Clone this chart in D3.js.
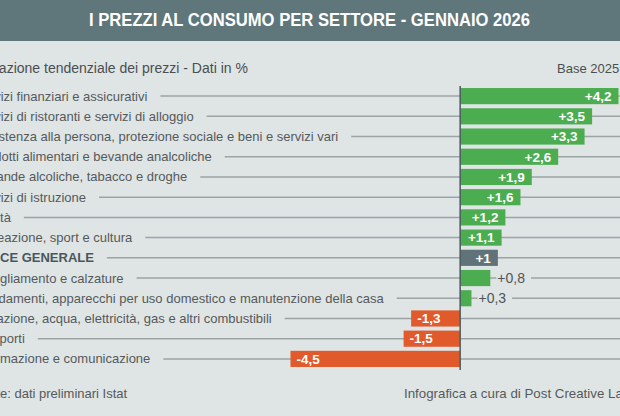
<!DOCTYPE html>
<html><head><meta charset="utf-8">
<script src="https://cdn.jsdelivr.net/npm/d3@7/dist/d3.min.js"></script>
<style>
html,body{margin:0;padding:0;background:#dfe4e4;}
svg{display:block;font-family:"Liberation Sans",Arial,sans-serif;}
</style></head>
<body>
<svg id="c" width="620" height="416"></svg>
<script>
const categories = [
  "Servizi finanziari e assicurativi",
  "Servizi di ristoranti e servizi di alloggio",
  "Assistenza alla persona, protezione sociale e beni e servizi vari",
  "Prodotti alimentari e bevande analcoliche",
  "Bevande alcoliche, tabacco e droghe",
  "Servizi di istruzione",
  "Sanità",
  "Ricreazione, sport e cultura",
  "INDICE GENERALE",
  "Abbigliamento e calzature",
  "Arredamenti, apparecchi per uso domestico e manutenzione della casa",
  "Abitazione, acqua, elettricità, gas e altri combustibili",
  "Trasporti",
  "Informazione e comunicazione"
];
const values = [4.2, 3.5, 3.3, 2.6, 1.9, 1.6, 1.2, 1.1, 1, 0.8, 0.3, -1.3, -1.5, -4.5];
const totalLabel = "INDICE GENERALE";
const title = "I PREZZI AL CONSUMO PER SETTORE - GENNAIO 2026";
const subtitle = "Variazione tendenziale dei prezzi - Dati in %";
const baseNote = "Base 2025=100";
const source = "Fonte: dati preliminari Istat";
const credit = "Infografica a cura di Post Creative Lab";

const W = 620, H = 416;
const svg = d3.select("#c");
const C = {bg:"#dfe4e4", head:"#5f767b", green:"#4cad50", orange:"#e05a2b", total:"#5f7378",
           text:"#555a5c", line:"#9ca4a6", axis:"#4a5b60"};

svg.append("rect").attr("width", W).attr("height", H).attr("fill", C.bg);
svg.append("rect").attr("width", W).attr("height", 41).attr("fill", C.head);
svg.append("text").attr("x", 89).attr("y", 26).attr("fill", "#fff")
  .attr("font-size", 18).attr("font-weight", "bold")
  .attr("textLength", 441).attr("lengthAdjust", "spacingAndGlyphs").text(title);

const labelX = -26;
svg.append("text").attr("x", -25).attr("y", 73).attr("font-size", 14).attr("fill", "#4a4f51").text(subtitle);
svg.append("text").attr("x", 557).attr("y", 73).attr("font-size", 13).attr("fill", "#4a4f51").text(baseNote);
svg.append("text").attr("x", labelX).attr("y", 398).attr("font-size", 13).attr("fill", C.text).text(source);
svg.append("text").attr("x", 404).attr("y", 398).attr("font-size", 13.3).attr("fill", C.text).text(credit);

const data = categories.map((c, i) => ({c, v: values[i]}));
const y = d3.scaleBand().domain(categories).range([86, 369]).paddingInner(0.2).paddingOuter(0.1);
const x = d3.scaleLinear().domain([-4.5, 4.2]).range([290.5, 618.5]);
const fmt = v => d3.format("+")(v).replace(".", ",").replace("−", "-");

const rows = svg.append("g").selectAll("g").data(data).join("g");
rows.each(function(d) {
  const g = d3.select(this);
  const cy = y(d.c) + y.bandwidth() / 2;
  const isTot = d.c === totalLabel;
  const t = g.append("text").attr("x", labelX).attr("y", cy + 4.5).attr("font-size", 13)
    .attr("font-weight", isTot ? "bold" : "normal").attr("fill", isTot ? "#4a585c" : C.text).text(d.c);
  const w = t.node().getComputedTextLength();
  g.append("line").attr("x1", labelX + w + 13).attr("x2", W).attr("y1", cy).attr("y2", cy)
    .attr("stroke", C.line).attr("stroke-width", 1.5);
  const x0 = Math.min(x(0), x(d.v)), x1 = Math.max(x(0), x(d.v));
  g.append("rect").attr("x", x0).attr("y", y(d.c)).attr("width", x1 - x0).attr("height", y.bandwidth())
    .attr("fill", isTot ? C.total : (d.v >= 0 ? C.green : C.orange));
  const inside = Math.abs(d.v) >= 1;
  if (inside) {
    g.append("text").attr("x", d.v >= 0 ? x1 - 7 : x0 + 6).attr("y", cy + 4.8)
      .attr("text-anchor", d.v >= 0 ? "end" : "start").attr("font-size", 13.5).attr("font-weight", "bold")
      .attr("fill", "#fff").text(fmt(d.v));
  } else {
    const lx = x1 + 7;
    const bgR = g.append("rect").attr("fill", C.bg);
    const vt = g.append("text").attr("x", lx).attr("y", cy + 5).attr("font-size", 14)
      .attr("fill", "#4f5558").text(fmt(d.v));
    const vw = vt.node().getComputedTextLength();
    bgR.attr("x", lx - 1).attr("y", cy - 3).attr("width", vw + 7).attr("height", 6);
  }
});

svg.append("line").attr("x1", x(0)).attr("x2", x(0)).attr("y1", 86).attr("y2", 370)
  .attr("stroke", C.axis).attr("stroke-width", 1.5);
</script>
</body></html>
